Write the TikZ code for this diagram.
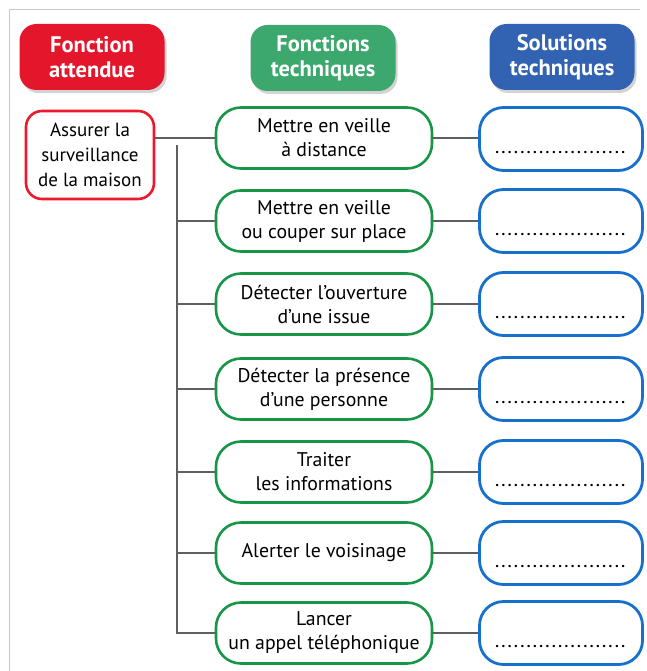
\documentclass[tikz,border=0pt]{standalone}
\usepackage{fontspec}
\setmainfont{PT Sans}
\usetikzlibrary{shadows}
\definecolor{hred}{RGB}{228,22,44}
\definecolor{hgreen}{RGB}{60,168,110}
\definecolor{hblue}{RGB}{50,98,178}
\definecolor{bred}{RGB}{236,24,44}
\definecolor{bgreen}{RGB}{24,150,72}
\definecolor{bblue}{RGB}{22,112,204}
\definecolor{conn}{RGB}{95,95,95}
\definecolor{frame}{RGB}{200,200,200}
\newcommand{\dotline}{\makebox[138pt]{\leaders\hbox to 6.3pt{\hss\fontsize{15}{15}\bfseries.\hss}\hfill}}
\begin{document}
\begin{tikzpicture}[x=1pt,y=-1pt,
  header/.style={rounded corners=17pt, text=white, align=center,
    font=\bfseries\fontsize{22.5}{25}\selectfont,
    minimum width=145pt, minimum height=66pt, inner sep=0pt,
    drop shadow={shadow xshift=2pt, shadow yshift=-3pt, opacity=0.35}},
  mainbox/.style={draw=bred, line width=2.6pt, fill=white, rounded corners=16pt,
    align=center, font=\fontsize{19}{25}\selectfont,
    minimum width=128pt, minimum height=88pt, inner sep=0pt},
  fctbox/.style={draw=bgreen, line width=2.6pt, fill=white, rounded corners=25pt,
    align=center, font=\fontsize{19.8}{24}\selectfont,
    minimum width=216pt, minimum height=61pt, inner sep=0pt},
  solbox/.style={draw=bblue, line width=2.8pt, fill=white, rounded corners=24pt,
    minimum width=163pt, minimum height=63pt, inner sep=0pt},
  dots/.style={inner sep=0pt},
  link/.style={draw=conn, line width=1.8pt}]
\useasboundingbox (0,0) rectangle (646,671);
\draw[frame, line width=0.9pt] (9,671) -- (9,9) -- (640,9);

% headers
\node[header, fill=hred]   (h1) at (92,57)  {Fonction\\attendue};
\node[header, fill=hgreen] (h2) at (323,58) {Fonctions\\techniques};
\node[header, fill=hblue]  (h3) at (562,57) {Solutions\\techniques};

% main function
\node[mainbox] (a) at (90,155) {Assurer la\\surveillance\\de la maison};

% technical functions
\node[fctbox] (f1) at (324,138) {Mettre en veille\\à distance};
\node[fctbox] (f2) at (324,221) {Mettre en veille\\ou couper sur place};
\node[fctbox] (f3) at (324,304) {Détecter l’ouverture\\d’une issue};
\node[fctbox] (f4) at (324,389) {Détecter la présence\\d’une personne};
\node[fctbox] (f5) at (324,472) {Traiter\\les informations};
\node[fctbox] (f6) at (324,553) {Alerter le voisinage};
\node[fctbox] (f7) at (324,633) {Lancer\\\makebox[170pt]{un appel téléphonique}};

% technical solutions
\foreach \i/\y in {1/139,2/221,3/304,4/389,5/472,6/553,7/633}{
  \node[solbox] (b\i) at (561,\y) {};
  \node[dots] (d\i) at (563,\y+14) {\dotline};
}

% connectors
\coordinate (vtop) at (177,145);
\draw[link] (a.east |- f1.west) -- (f1.west);
\draw[link] (vtop) -- (vtop |- f7.west) -- (f7.west);
\foreach \i in {2,...,6}{
  \draw[link] (vtop |- f\i.west) -- (f\i.west);
}
\foreach \i in {1,...,7}{
  \draw[link] (f\i.east) -- (f\i.east -| b\i.west);
}
\end{tikzpicture}
\end{document}
